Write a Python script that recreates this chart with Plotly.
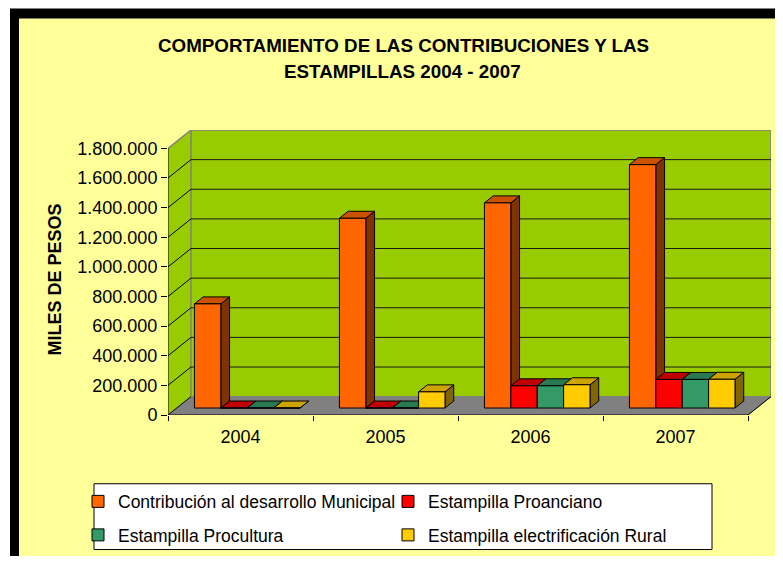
import plotly.graph_objects as go

# ---------------- data ----------------
years = ["2004", "2005", "2006", "2007"]
series_names = [
    "Contribución al desarrollo Municipal",
    "Estampilla Proanciano",
    "Estampilla Procultura",
    "Estampilla electrificación Rural",
]
contribucion = [703000, 1281000, 1385000, 1643000]
proanciano = [0, 0, 150000, 193000]
procultura = [0, 0, 150000, 193000]
electrificacion = [0, 109000, 157000, 194000]

ytick_vals = [0, 200000, 400000, 600000, 800000, 1000000, 1200000, 1400000, 1600000, 1800000]
ytick_text = ["0", "200.000", "400.000", "600.000", "800.000", "1.000.000",
              "1.200.000", "1.400.000", "1.600.000", "1.800.000"]

# ---------------- style ----------------
front_colors = ["#FF6600", "#FF0000", "#339966", "#FFCC00"]
top_colors = ["#CC5200", "#C00000", "#297A52", "#CCA300"]
side_colors = ["#803300", "#800000", "#1A4D33", "#806600"]
WALL = "#99CC00"
FLOOR = "#808080"
FONT = "Liberation Sans, Arial, sans-serif"

# pseudo-3D geometry (axis units)
N = len(years)
YMAX = ytick_vals[-1]
DX = 23 / 145          # wall depth in x units
DY = 124000            # wall depth in y units
F = 0.38               # depth of bar front plane (fraction)
BD = 0.38              # bar depth (fraction)
BAR_W = 0.182
BAR_OFF = 0.122

# figure pixel layout (page has an 8px body margin on every side)
PAGE = 8
W, H = 783 - 2 * PAGE, 564 - 2 * PAGE
ML, MR, MT, MB = 160, 4, 122, 140
PW, PH = W - ML - MR, H - MT - MB


def px(x):
    return (x - PAGE - ML) / PW


def py(y):
    return (H - MB - (y - PAGE)) / PH


fig = go.Figure()

# walls and floor
fig.add_trace(go.Scatter(x=[0, DX, DX, 0, 0], y=[0, DY, YMAX + DY, YMAX, 0], fill="toself",
                         fillcolor=WALL, line=dict(width=0), mode="lines",
                         hoverinfo="skip", showlegend=False))
fig.add_trace(go.Scatter(x=[DX, N + DX, N + DX, DX, DX], y=[DY, DY, YMAX + DY, YMAX + DY, DY],
                         fill="toself", fillcolor=WALL, line=dict(color="#808080", width=1.5),
                         mode="lines", hoverinfo="skip", showlegend=False))
fig.add_trace(go.Scatter(x=[0, N, N + DX, DX, 0], y=[0, 0, DY, DY, 0], fill="toself",
                         fillcolor=FLOOR, line=dict(color="#808080", width=1), mode="lines",
                         hoverinfo="skip", showlegend=False))

# gridlines on back wall and left wall
gx, gy, lx, ly = [], [], [], []
for v in ytick_vals[1:-1]:
    gx += [DX, N + DX, None]
    gy += [v + DY, v + DY, None]
for v in ytick_vals[:-1]:
    lx += [0, DX, None]
    ly += [v, v + DY, None]
fig.add_trace(go.Scatter(x=gx, y=gy, mode="lines", line=dict(color="#1a1a1a", width=1),
                         hoverinfo="skip", showlegend=False))
fig.add_trace(go.Scatter(x=lx, y=ly, mode="lines", line=dict(color="#000000", width=1),
                         hoverinfo="skip", showlegend=False))
fig.add_trace(go.Scatter(x=[0, DX], y=[YMAX, YMAX + DY], mode="lines",
                         line=dict(color="#808080", width=1.5), hoverinfo="skip", showlegend=False))
# axis edges
fig.add_trace(go.Scatter(x=[0, 0, None, 0, N, N + DX], y=[YMAX, 0, None, 0, 0, DY], mode="lines",
                         line=dict(color="#000000", width=1), hoverinfo="skip", showlegend=False))

all_series = [contribucion, proanciano, procultura, electrificacion]
FX, FY = F * DX, F * DY
BDX, BDY = BD * DX, BD * DY

# side and top faces (drawn behind the front faces)
for i in range(N):
    for k, vals in enumerate(all_series):
        v = vals[i]
        xl = i + FX + BAR_OFF + k * BAR_W
        xr = xl + BAR_W
        fig.add_trace(go.Scatter(
            x=[xr, xr, xr + BDX, xr + BDX, xr], y=[FY, FY + v, FY + v + BDY, FY + BDY, FY],
            fill="toself", fillcolor=side_colors[k], mode="lines",
            line=dict(color="black", width=1), hoverinfo="skip", showlegend=False))
        fig.add_trace(go.Scatter(
            x=[xl, xr, xr + BDX, xl + BDX, xl], y=[FY + v, FY + v, FY + v + BDY, FY + v + BDY, FY + v],
            fill="toself", fillcolor=top_colors[k], mode="lines",
            line=dict(color="black", width=1), hoverinfo="skip", showlegend=False))

# front faces as real bars on an overlaid axis pair
for k, vals in enumerate(all_series):
    xs = [i + FX + BAR_OFF + (k + 0.5) * BAR_W for i in range(N)]
    fig.add_trace(go.Bar(
        x=xs, y=vals, base=[FY] * N, width=BAR_W, name=series_names[k],
        marker=dict(color=front_colors[k], line=dict(color="black", width=1)),
        xaxis="x2", yaxis="y2", legend="legend" if k < 2 else "legend2",
        customdata=years, hovertemplate="%{customdata}: %{y:,.0f}<extra>%{fullData.name}</extra>"))

ax_common = dict(showgrid=False, zeroline=False, fixedrange=True)
fig.update_layout(
    width=W, height=H,
    margin=dict(l=ML, r=MR, t=MT, b=MB),
    paper_bgcolor="white", plot_bgcolor="rgba(0,0,0,0)",
    separators=",.",
    barmode="overlay",
    font=dict(family=FONT, size=18, color="black"),
    xaxis=dict(range=[0, N + DX], tickvals=[i + 0.5 for i in range(N)], ticktext=years,
               ticks="", showline=False, tickfont=dict(size=18), ticklabelstandoff=9,
               minor=dict(tickvals=list(range(N + 1)), ticks="outside", ticklen=5,
                          tickcolor="black", tickwidth=1, showgrid=False),
               **ax_common),
    yaxis=dict(range=[0, YMAX + DY], tickvals=ytick_vals, ticktext=ytick_text,
               ticks="outside", ticklen=6, tickcolor="black", showline=False,
               tickfont=dict(size=18), **ax_common),
    xaxis2=dict(range=[0, N + DX], overlaying="x", visible=False, **ax_common),
    yaxis2=dict(range=[0, YMAX + DY], overlaying="y", visible=False, **ax_common),
    legend=dict(orientation="h", x=px(78), xanchor="left", y=py(501.5), yanchor="middle",
                entrywidth=265, bgcolor="rgba(0,0,0,0)", borderwidth=0,
                font=dict(size=17.5, family=FONT)),
    legend2=dict(orientation="h", x=px(78), xanchor="left", y=py(535), yanchor="middle",
                 entrywidth=265, bgcolor="rgba(0,0,0,0)", borderwidth=0,
                 font=dict(size=17.5, family=FONT)),
    shapes=[
        dict(type="rect", xref="paper", yref="paper", x0=px(10), x1=px(800), y0=py(8), y1=py(600),
             fillcolor="black", line=dict(width=0), layer="below"),
        dict(type="rect", xref="paper", yref="paper", x0=px(19), x1=px(800), y0=py(18), y1=py(561),
             fillcolor="#FFFF99", line=dict(width=0), layer="below"),
        dict(type="rect", xref="paper", yref="paper", x0=px(94), x1=px(712), y0=py(485), y1=py(551),
             fillcolor="white", line=dict(color="black", width=1), layer="below"),
    ],
    annotations=[
        dict(text="<b>COMPORTAMIENTO DE LAS CONTRIBUCIONES Y LAS</b>", xref="paper", yref="paper",
             x=px(403), y=py(45), xanchor="center", yanchor="middle", showarrow=False,
             font=dict(size=18.8, family=FONT)),
        dict(text="<b>ESTAMPILLAS 2004 - 2007</b>", xref="paper", yref="paper",
             x=px(402), y=py(71.5), xanchor="center", yanchor="middle", showarrow=False,
             font=dict(size=18.8, family=FONT)),
        dict(text="<b>MILES DE PESOS</b>", xref="paper", yref="paper", x=px(55), y=py(280),
             xanchor="center", yanchor="middle", textangle=-90, showarrow=False,
             font=dict(size=18, family=FONT)),
    ],
)

fig.write_html("out.html")
